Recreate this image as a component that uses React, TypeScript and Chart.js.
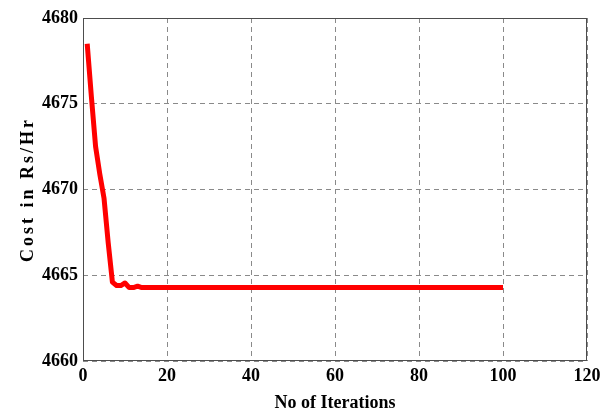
import React, { useEffect, useRef } from "react";
import { Chart, registerables } from "chart.js";

Chart.register(...registerables);

// Cost (Rs/Hr) per iteration, iterations 1..100
const COST: number[] = [
  4678.5, 4675.4, 4672.5, 4670.9, 4669.5, 4666.9, 4664.6, 4664.4, 4664.4, 4664.55,
  4664.28, 4664.28, 4664.36, 4664.28, 4664.28, 4664.28, 4664.28, 4664.28, 4664.28, 4664.28,
  4664.28, 4664.28, 4664.28, 4664.28, 4664.28, 4664.28, 4664.28, 4664.28, 4664.28, 4664.28,
  4664.28, 4664.28, 4664.28, 4664.28, 4664.28, 4664.28, 4664.28, 4664.28, 4664.28, 4664.28,
  4664.28, 4664.28, 4664.28, 4664.28, 4664.28, 4664.28, 4664.28, 4664.28, 4664.28, 4664.28,
  4664.28, 4664.28, 4664.28, 4664.28, 4664.28, 4664.28, 4664.28, 4664.28, 4664.28, 4664.28,
  4664.28, 4664.28, 4664.28, 4664.28, 4664.28, 4664.28, 4664.28, 4664.28, 4664.28, 4664.28,
  4664.28, 4664.28, 4664.28, 4664.28, 4664.28, 4664.28, 4664.28, 4664.28, 4664.28, 4664.28,
  4664.28, 4664.28, 4664.28, 4664.28, 4664.28, 4664.28, 4664.28, 4664.28, 4664.28, 4664.28,
  4664.28, 4664.28, 4664.28, 4664.28, 4664.28, 4664.28, 4664.28, 4664.28, 4664.28, 4664.28,
];

const X_TITLE = "No of Iterations";
const Y_TITLE = "Cost in Rs/Hr";
const X_MIN = 0;
const X_MAX = 120;
const X_STEP = 20;
const Y_MIN = 4660;
const Y_MAX = 4680;
const Y_STEP = 5;

const FONT_FAMILY = '"Liberation Serif", "Times New Roman", serif';

export default function App() {
  const ref = useRef<HTMLCanvasElement | null>(null);

  useEffect(() => {
    if (!ref.current) return;
    const points = COST.map((v, i) => ({ x: i + 1, y: v }));

    const boxPlugin = {
      id: "boxAndTitle",
      afterDraw(chart: any) {
        const { ctx, chartArea } = chart;
        const l = Math.round(chartArea.left) + 0.5;
        const t = Math.round(chartArea.top) + 0.5;
        const r = Math.round(chartArea.right) - 0.5;
        const b = Math.round(chartArea.bottom) - 0.5;
        ctx.save();
        ctx.strokeStyle = "#4d4d4d";
        ctx.lineWidth = 1;
        ctx.setLineDash([]);
        ctx.strokeRect(l, t, r - l, b - t);
        ctx.restore();

        ctx.save();
        ctx.translate(28, (chartArea.top + chartArea.bottom) / 2);
        ctx.rotate(-Math.PI / 2);
        ctx.font = `bold 18px ${FONT_FAMILY}`;
        (ctx as any).letterSpacing = "3px";
        ctx.fillStyle = "#000";
        ctx.textAlign = "center";
        ctx.textBaseline = "middle";
        ctx.fillText(Y_TITLE, 0, 0);
        ctx.restore();
      },
    };

    const tickFont = { family: FONT_FAMILY, weight: "bold" as const, size: 18 };

    const chart = new Chart(ref.current, {
      type: "line",
      data: {
        datasets: [
          {
            data: points,
            borderColor: "#ff0000",
            backgroundColor: "#ff0000",
            borderWidth: 5,
            pointRadius: 0,
            tension: 0,
            borderJoinStyle: "round",
            fill: false,
          },
        ],
      },
      options: {
        responsive: false,
        animation: false,
        devicePixelRatio: 1,
        layout: { padding: { top: 18, right: 27, left: 0, bottom: 0 } },
        plugins: {
          legend: { display: false },
          tooltip: { enabled: false },
        },
        scales: {
          x: {
            type: "linear",
            min: X_MIN,
            max: X_MAX,
            ticks: {
              stepSize: X_STEP,
              color: "#000",
              font: tickFont,
              padding: 5,
              maxRotation: 0,
              callback: (v: any) => String(v),
            },
            grid: { color: "#8a8a8a", lineWidth: 1, drawTicks: false },
            border: { display: false, dash: [5, 4] },
            title: {
              display: true,
              text: X_TITLE,
              color: "#000",
              font: tickFont,
              padding: { top: 0, bottom: 0 },
            },
            afterFit: (s: any) => {
              s.height = 53;
            },
          },
          y: {
            type: "linear",
            min: Y_MIN,
            max: Y_MAX,
            ticks: {
              stepSize: Y_STEP,
              color: "#000",
              font: tickFont,
              padding: 5,
              callback: (v: any) => String(v),
            },
            grid: { color: "#8a8a8a", lineWidth: 1, drawTicks: false },
            border: { display: false, dash: [5, 4] },
            afterFit: (s: any) => {
              s.width = 83;
            },
          },
        },
      },
      plugins: [boxPlugin],
    });

    return () => chart.destroy();
  }, []);

  return (
    <div style={{ position: "absolute", left: 0, top: 0, width: 614, height: 414, background: "#fff" }}>
      <canvas ref={ref} width={614} height={414} style={{ width: 614, height: 414, display: "block" }} />
    </div>
  );
}
